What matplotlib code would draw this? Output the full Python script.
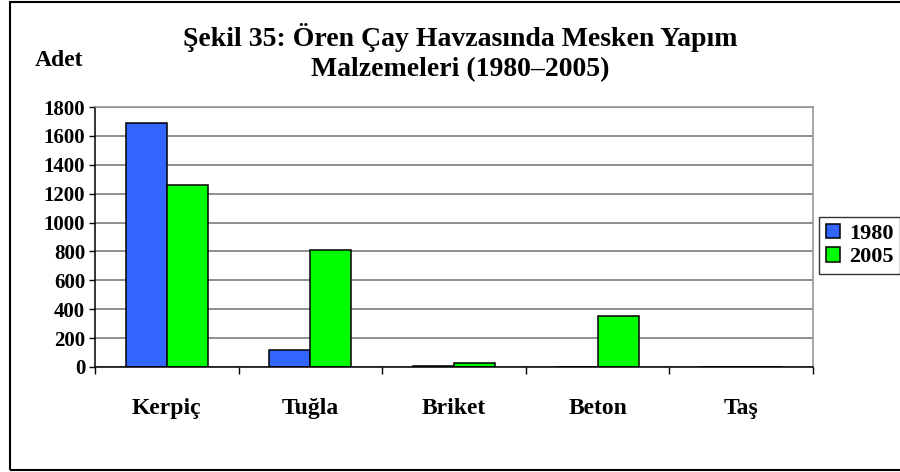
import numpy as np
import matplotlib.pyplot as plt
from matplotlib.patches import Rectangle

# mesken sayilari (adet)
materials = ['Kerpiç', 'Tuğla', 'Briket', 'Beton', 'Taş']
years = ['1980', '2005']
count_1980 = [1690, 115, 10, 0, 0]
count_2005 = [1260, 810, 30, 350, 0]
yticks = [0, 200, 400, 600, 800, 1000, 1200, 1400, 1600, 1800]

plt.rcParams['font.family'] = ['Liberation Serif', 'DejaVu Serif']
plt.rcParams['font.weight'] = 'bold'

fig = plt.figure(figsize=(9, 4.72), dpi=100)
ax = fig.add_axes([95 / 900, 1 - 367 / 472, (813 - 95) / 900, (367 - 107) / 472])

x = np.arange(len(materials))
w = 2 / 7
ax.bar(x - w / 2, count_1980, w, color='#3366FF', edgecolor='black', linewidth=1.1,
       label=years[0], zorder=3)
ax.bar(x + w / 2, count_2005, w, color='#00FF00', edgecolor='black', linewidth=1.1,
       label=years[1], zorder=3)

ax.set_xlim(-0.5, len(materials) - 0.5)
ax.set_ylim(0, 1800)
ax.set_yticks(yticks)
ax.set_yticklabels([str(v) for v in yticks], fontsize=15, fontweight='bold')
ax.set_xticks(x)
ax.set_xticklabels(materials, fontsize=17, fontweight='bold')
ax.set_xticks(np.arange(-0.5, len(materials)), minor=True)
ax.tick_params(axis='x', which='major', length=0, pad=22)
ax.tick_params(axis='x', which='minor', length=5, width=1, color='black')
ax.tick_params(axis='y', length=4, width=1, color='black', pad=3)

ax.grid(axis='y', color='#707070', linewidth=1.1, zorder=0)
ax.spines['left'].set_color('black')
ax.spines['bottom'].set_color('black')
ax.spines['top'].set_color('#909090')
ax.spines['right'].set_color('#909090')
for s in ax.spines.values():
    s.set_linewidth(1.1)
ax.spines['bottom'].set_zorder(4)

fig.text(460 / 900, 1 - 37 / 472, 'Şekil 35: Ören Çay Havzasında Mesken Yapım',
         ha='center', va='center', fontsize=20, fontweight='bold')
fig.text(460 / 900, 1 - 70 / 472, 'Malzemeleri (1980–2005)',
         ha='center', va='center', fontsize=20, fontweight='bold')
fig.text(35 / 900, 1 - 61 / 472, 'Adet', ha='left', va='center',
         fontsize=17, fontweight='bold')

leg = fig.legend(loc='upper left', bbox_to_anchor=(819 / 900, 1 - 217 / 472),
                 fontsize=16, frameon=True, fancybox=False, handlelength=0.65,
                 handleheight=0.65, handletextpad=0.4, borderpad=0.3,
                 labelspacing=0.15, borderaxespad=0)
leg.get_frame().set_edgecolor('black')
leg.get_frame().set_linewidth(1.0)
for t in leg.get_texts():
    t.set_fontweight('bold')

# cerceve
fig.patches.append(Rectangle((10 / 900, 1 - 470 / 472), 1.0, 468 / 472,
                             transform=fig.transFigure, fill=False,
                             edgecolor='black', linewidth=1.5))

fig.savefig('out.png', dpi=100)
